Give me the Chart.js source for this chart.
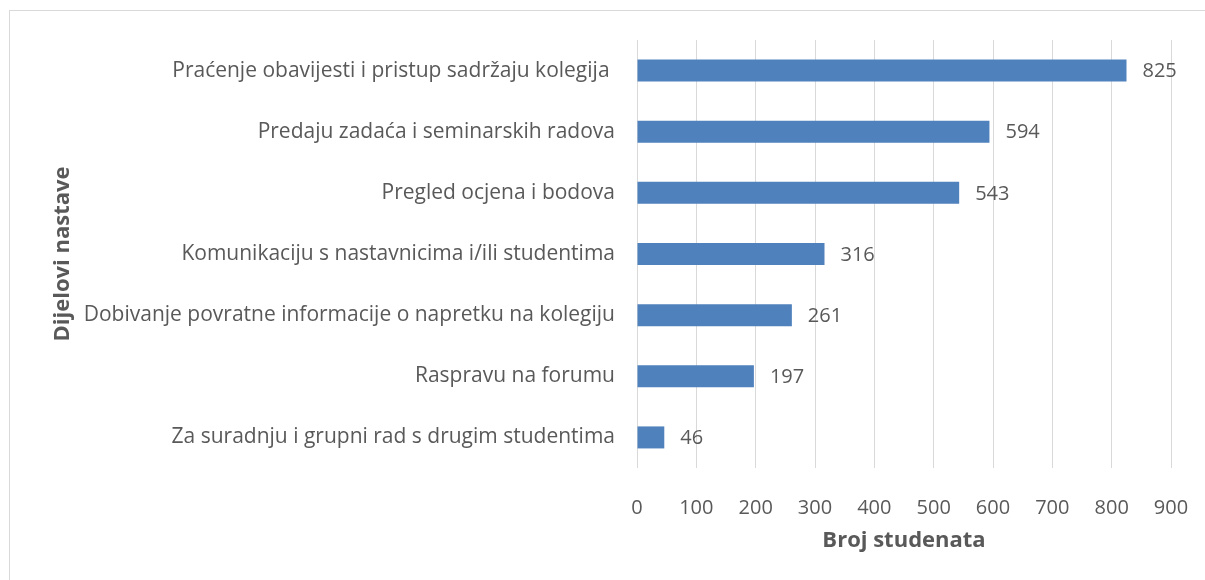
<!DOCTYPE html>
<html>
<head>
<meta charset="utf-8">
<script src="https://cdn.jsdelivr.net/npm/chart.js@4/dist/chart.umd.min.js"></script>
<style>
  body { margin: 0; background: #fff; }
  #wrap { position: relative; width: 1205px; height: 580px; overflow: hidden; }
  #frame { position: absolute; left: 9px; top: 10px; width: 1300px; height: 700px; border: 1px solid #d9d9d9; }
  canvas { position: absolute; left: 0; top: 0; }
</style>
</head>
<body>
<div id="wrap">
  <div id="frame"></div>
  <canvas id="chart" width="1205" height="580"></canvas>
</div>
<script>
const categories = [
  'Praćenje obavijesti i pristup sadržaju kolegija ',
  'Predaju zadaća i seminarskih radova',
  'Pregled ocjena i bodova',
  'Komunikaciju s nastavnicima i/ili studentima',
  'Dobivanje povratne informacije o napretku na kolegiju',
  'Raspravu na forumu',
  'Za suradnju i grupni rad s drugim studentima'
];
const students = [825, 594, 543, 316, 261, 197, 46];
const xTicks = [0, 100, 200, 300, 400, 500, 600, 700, 800, 900];

const textColor = '#595959';
const fontFamily = '"Open Sans", "Noto Sans", sans-serif';

const valueLabels = {
  id: 'valueLabels',
  afterDatasetsDraw(chart) {
    const ctx = chart.ctx;
    ctx.save();
    ctx.font = '20px ' + fontFamily;
    ctx.fillStyle = textColor;
    ctx.textAlign = 'left';
    ctx.textBaseline = 'middle';
    chart.getDatasetMeta(0).data.forEach((bar, i) => {
      ctx.fillText(String(students[i]), bar.x + 16, bar.y + 1);
    });
    ctx.restore();
  }
};

window.onload = () => {
  const context = document.getElementById('chart').getContext('2d');
  new Chart(context, {
    type: 'bar',
    data: {
      labels: categories,
      datasets: [{
        data: students,
        backgroundColor: '#4F81BD',
        barPercentage: 0.36,
        categoryPercentage: 1
      }]
    },
    options: {
      indexAxis: 'y',
      responsive: false,
      animation: false,
      layout: { padding: { top: 40, right: 34, left: 0, bottom: 0 } },
      plugins: { legend: { display: false }, tooltip: { enabled: false } },
      scales: {
        x: {
          min: 0,
          max: 900,
          afterBuildTicks: (scale) => { scale.ticks = xTicks.map(v => ({ value: v })); },
          afterFit: (scale) => {
            scale.height = 112;
            scale.paddingLeft = 0;
            scale.paddingRight = 0;
          },
          grid: { color: '#d9d9d9', drawTicks: false },
          border: { display: false },
          ticks: { color: textColor, font: { family: fontFamily, size: 20 }, padding: 28 },
          title: {
            display: true,
            text: 'Broj studenata',
            color: textColor,
            font: { family: fontFamily, size: 22, weight: 'bold' },
            padding: { top: 0, bottom: 26 }
          }
        },
        y: {
          afterFit: (scale) => { scale.width = 637; },
          grid: { display: false, drawTicks: false },
          border: { display: false },
          ticks: { color: textColor, font: { family: fontFamily, size: 21 }, padding: 22, autoSkip: false },
          title: {
            display: true,
            text: 'Dijelovi nastave',
            color: textColor,
            font: { family: fontFamily, size: 22, weight: 'bold' },
            padding: { top: 50, bottom: 0 }
          }
        }
      }
    },
    plugins: [valueLabels]
  });
};
</script>
</body>
</html>
